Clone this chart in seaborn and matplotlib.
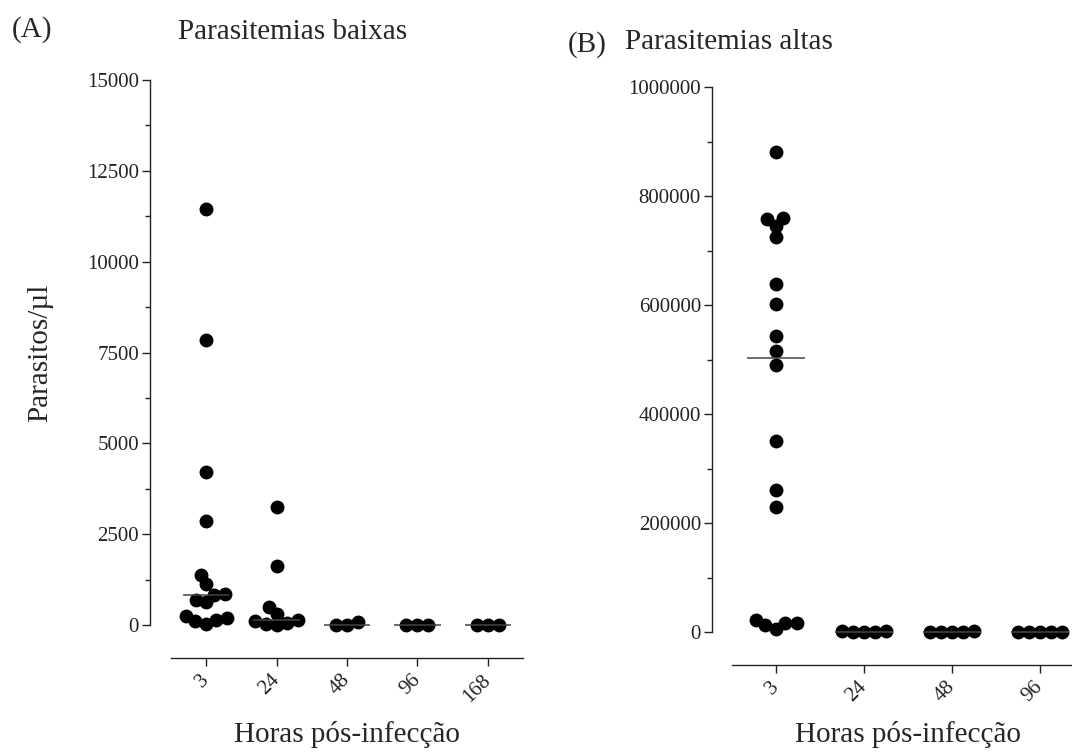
import numpy as np
import pandas as pd
import matplotlib
matplotlib.use("Agg")
import matplotlib.pyplot as plt
import seaborn as sns
from matplotlib.ticker import MultipleLocator, ScalarFormatter

# ---------------- data ----------------
hours_a = ["3", "24", "48", "96", "168"]
a_h3 = [11450, 7850, 4220, 2850, 1380, 1130, 850, 820, 700, 620, 250, 200, 150, 100, 30]
a_h24 = [3250, 1620, 500, 300, 150, 120, 60, 30, 0]
a_h48 = [80, 0, 0]
a_h96 = [0, 0, 0]
a_h168 = [0, 0, 0]

hours_b = ["3", "24", "48", "96"]
b_h3 = [880000, 760000, 757000, 745000, 725000, 638000, 602000, 543000, 515000,
        490000, 350000, 260000, 230000, 22000, 17000, 16000, 12000, 6000]
b_h24 = [1500, 1000, 600, 300, 0]
b_h48 = [1200, 800, 400, 100, 0]
b_h96 = [800, 500, 300, 100, 0]

title_a = "Parasitemias baixas"
title_b = "Parasitemias altas"
xlabel = "Horas pós-infecção"
ylabel = "Parasitos/µl"


def long_df(hours, series):
    rows = []
    for h, vals in zip(hours, series):
        for v in vals:
            rows.append((h, v))
    return pd.DataFrame(rows, columns=["hora", "val"])


df_a = long_df(hours_a, [a_h3, a_h24, a_h48, a_h96, a_h168])
df_b = long_df(hours_b, [b_h3, b_h24, b_h48, b_h96])

# ---------------- style ----------------
sns.set_theme(style="ticks")
plt.rcParams["font.family"] = ["Liberation Serif", "DejaVu Serif"]
plt.rcParams["axes.edgecolor"] = "#222222"
plt.rcParams["xtick.color"] = "#222222"
plt.rcParams["ytick.color"] = "#222222"

W, H = 1072, 753
fig = plt.figure(figsize=(W / 100, H / 100), dpi=100)


def px_axes(left, bottom_y, right, top_y):
    return fig.add_axes([left / W, 1 - bottom_y / H, (right - left) / W, (bottom_y - top_y) / H])


PT = 72 / 100  # points per pixel


def panel(ax, df, order, ymax, major, minor, left_off_px, bottom_off_px, ylab):
    sns.swarmplot(data=df, x="hora", y="val", order=order, color="black",
                  size=7.6, linewidth=0, ax=ax)
    colls = list(ax.collections)
    sns.boxplot(data=df, x="hora", y="val", order=order, width=0.66,
                showbox=False, showcaps=False, showfliers=False,
                whiskerprops={"visible": False},
                medianprops={"color": "#444444", "linewidth": 1.1, "clip_on": False, "zorder": 5},
                ax=ax)
    ax.set_xlim(-0.5, len(order) - 0.5)
    ax.set_ylim(0, ymax)
    ax.yaxis.set_major_locator(MultipleLocator(major))
    ax.yaxis.set_minor_locator(MultipleLocator(minor))
    fmt = ScalarFormatter(useOffset=False)
    fmt.set_scientific(False)
    ax.yaxis.set_major_formatter(fmt)
    for s in ["top", "right"]:
        ax.spines[s].set_visible(False)
    ax.spines["left"].set_position(("outward", left_off_px * PT))
    ax.spines["bottom"].set_position(("outward", bottom_off_px * PT))
    for s in ["left", "bottom"]:
        ax.spines[s].set_linewidth(1.0)
    ax.tick_params(axis="y", which="major", length=6, width=1.0, labelsize=15, pad=2)
    ax.tick_params(axis="y", which="minor", length=3.5, width=1.0)
    ax.tick_params(axis="x", which="major", length=6, width=1.0, labelsize=15, pad=8)
    for lab in ax.get_xticklabels():
        lab.set_rotation(45)
        lab.set_ha("right")
        lab.set_va("center")
        lab.set_rotation_mode("anchor")
    ax.set_xlabel(xlabel, fontsize=21)
    ax.xaxis.label.set_va("center")
    ax.set_ylabel(ylab, fontsize=21)
    ax.yaxis.label.set_va("center")
    ax.grid(False)
    return colls


axA = px_axes(171, 625, 523, 80)
axB = px_axes(732, 632, 1084, 87)

colls_a = panel(axA, df_a, hours_a, 15000, 2500, 1250, 21, 33, ylabel)
colls_b = panel(axB, df_b, hours_b, 1000000, 200000, 100000, 20, 33, "")

axA.xaxis.set_label_coords(0.5, (625 - 735) / 545)
axA.yaxis.set_label_coords((40 - 171) / 352, 0.5)
axB.xaxis.set_label_coords(0.5, (632 - 735) / 545)

fig.text(12 / W, 1 - 30 / H, "(A)", fontsize=21, va="center", ha="left")
fig.text(178 / W, 1 - 32 / H, title_a, fontsize=21, va="center", ha="left")
fig.text(568 / W, 1 - 45 / H, "(B)", fontsize=21, va="center", ha="left")
fig.text(625 / W, 1 - 42 / H, title_b, fontsize=21, va="center", ha="left")

# let seaborn compute swarm positions with a compact footprint, then enlarge dots
fig.canvas.draw()
for c in colls_a + colls_b:
    if "draw" in c.__dict__:
        del c.draw
    c.set_sizes([100])
    c.set_clip_on(False)
    c.set_zorder(3)

fig.savefig("out.png", dpi=100)
